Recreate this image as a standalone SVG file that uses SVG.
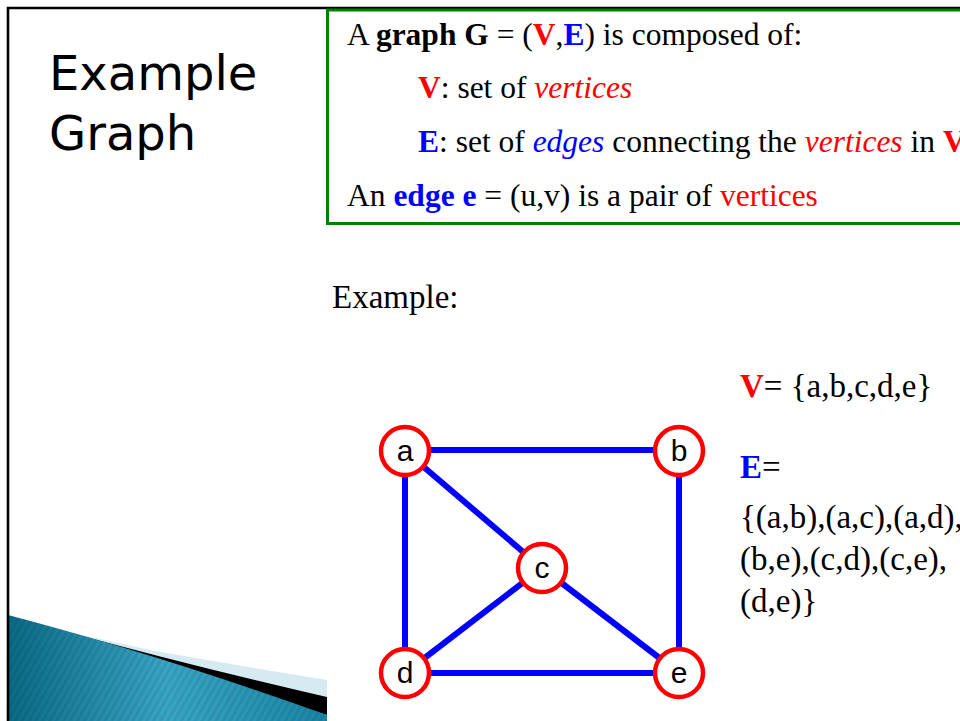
<svg xmlns="http://www.w3.org/2000/svg" width="960" height="721" viewBox="0 0 960 721">
<defs>
<style>
.serif{font-family:"Liberation Serif","Times New Roman",serif;font-size:31.5px;fill:#000}
.big{font-size:33px}
.r{fill:#ff0000}
.bl{fill:#0000ff}
.b{font-weight:bold}
.i{font-style:italic}
.title{font-family:"DejaVu Sans",Verdana,sans-serif;font-size:48px;fill:#000}
.node circle{fill:#fff;stroke:#ff0000;stroke-width:4.5}
.node text{font-family:"Liberation Sans",Arial,sans-serif;font-size:30px;fill:#000;text-anchor:middle}
.edge{stroke:#0000ff;stroke-width:6;fill:none}
</style>
<linearGradient id="teal" x1="0" y1="0" x2="1" y2="0">
<stop offset="0" stop-color="#0b6a86"/>
<stop offset="0.5" stop-color="#3aa6c6"/>
<stop offset="1" stop-color="#1a86a6"/>
</linearGradient>
<pattern id="stripes" width="6" height="6" patternUnits="userSpaceOnUse" patternTransform="rotate(30)">
<rect width="3" height="6" fill="#000" opacity="0.08"/>
</pattern>
</defs>
<rect width="960" height="721" fill="#fff"/>
<g id="swoosh">
<path d="M 150 650 Q 240 666 327 680 L 327 697 Q 200 668 60 630 Z" fill="#d6eaf1"/>
<path d="M 60 630 Q 200 668 327 697 L 327 715 Q 150 662 50 630 Z" fill="#000"/>
<path d="M 8 615 Q 160 655 327 715 L 327 721 L 8 721 Z" fill="url(#teal)"/>
<path d="M 8 615 Q 160 655 327 715 L 327 721 L 8 721 Z" fill="url(#stripes)"/>
</g>
<g id="frame" fill="none" stroke="#000" stroke-width="2.6">
<path d="M 960 8 H 8 V 721"/>
</g>
<g id="definition-box">
<path d="M 970 10 H 327.5 V 223.5 H 970" fill="none" stroke="#008000" stroke-width="3"/>
<text class="serif" x="347" y="45">A <tspan class="b">graph G</tspan> = (<tspan class="b r">V</tspan>,<tspan class="b bl">E</tspan>) is composed of:</text>
<text class="serif" x="418" y="98"><tspan class="b r">V</tspan>: set of <tspan class="i r">vertices</tspan></text>
<text class="serif" x="418" y="152"><tspan class="b bl">E</tspan>: set of <tspan class="i bl">edges</tspan> connecting the <tspan class="i r">vertices</tspan> in <tspan class="b r">V</tspan></text>
<text class="serif" x="347" y="206">An <tspan class="b bl">edge e</tspan> = (u,v) is a pair of <tspan class="r">vertices</tspan></text>
</g>
<g id="title">
<text class="title" x="49" y="90">Example</text>
<text class="title" x="49" y="150">Graph</text>
</g>
<text class="serif big" x="332" y="308">Example:</text>
<g id="sets">
<text class="serif big" x="740" y="397"><tspan class="b r">V</tspan>= {a,b,c,d,e}</text>
<text class="serif big" x="740" y="478"><tspan class="b bl">E</tspan>=</text>
<text class="serif big" x="740" y="528">{(a,b),(a,c),(a,d),</text>
<text class="serif big" x="740" y="570">(b,e),(c,d),(c,e),</text>
<text class="serif big" x="740" y="612">(d,e)}</text>
</g>
<g id="connectors">
<line class="edge" x1="405" y1="450" x2="679" y2="450"/>
<line class="edge" x1="405" y1="451" x2="405" y2="673"/>
<line class="edge" x1="679" y1="451" x2="679" y2="673"/>
<line class="edge" x1="405" y1="673" x2="679" y2="673"/>
<line class="edge" x1="405" y1="451" x2="542" y2="568"/>
<line class="edge" x1="542" y1="568" x2="405" y2="673"/>
<line class="edge" x1="542" y1="568" x2="679" y2="673"/>
</g>
<g id="node-a" class="node"><circle cx="405" cy="451" r="24"/><text x="405" y="461">a</text></g>
<g id="node-b" class="node"><circle cx="679" cy="451" r="24"/><text x="679" y="461">b</text></g>
<g id="node-c" class="node"><circle cx="542" cy="568" r="24"/><text x="542" y="578">c</text></g>
<g id="node-d" class="node"><circle cx="405" cy="673" r="24"/><text x="405" y="683">d</text></g>
<g id="node-e" class="node"><circle cx="679" cy="673" r="24"/><text x="679" y="683">e</text></g>
</svg>
